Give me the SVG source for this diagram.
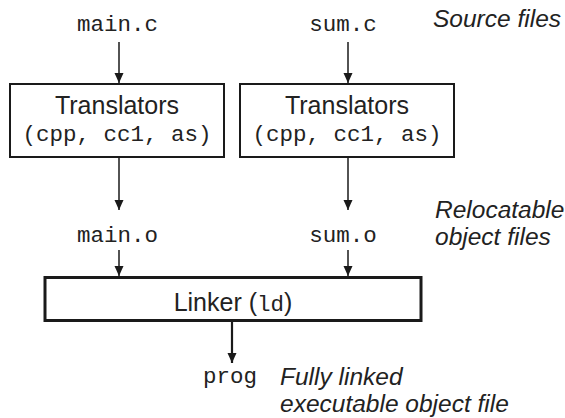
<svg xmlns="http://www.w3.org/2000/svg" width="565" height="418" viewBox="0 0 565 418">
<style>
.mono{font-family:"Liberation Mono","Courier New",monospace;font-size:22.5px;fill:#222;text-anchor:middle}
.sans{font-family:"Liberation Sans",Arial,sans-serif;font-size:25px;fill:#222;text-anchor:middle}
.note{font-family:"Liberation Sans",Arial,sans-serif;font-size:24.5px;font-style:italic;fill:#222}
.box{fill:#fff;stroke:#1a1a1a;stroke-width:2}
.lbox{fill:#fff;stroke:#1a1a1a;stroke-width:3}
.conn{stroke:#1a1a1a;stroke-width:1.5;fill:none}
</style>
<defs>
<marker id="ah" viewBox="0 0 10 10" refX="10" refY="5" markerWidth="10" markerHeight="10" markerUnits="userSpaceOnUse" orient="auto">
<path d="M0,0.5 L10,5 L0,9.5 z" fill="#1a1a1a"/>
</marker>
</defs>
<g id="connectors">
<line class="conn" x1="119" y1="42" x2="119" y2="83" marker-end="url(#ah)"/>
<line class="conn" x1="348" y1="42" x2="348" y2="83" marker-end="url(#ah)"/>
<line class="conn" x1="119" y1="158" x2="119" y2="210" marker-end="url(#ah)"/>
<line class="conn" x1="348" y1="158" x2="348" y2="210" marker-end="url(#ah)"/>
<line class="conn" x1="119" y1="250" x2="119" y2="276" marker-end="url(#ah)"/>
<line class="conn" x1="348" y1="250" x2="348" y2="276" marker-end="url(#ah)"/>
<line class="conn" style="stroke-width:2.2" x1="232" y1="321" x2="232" y2="363" marker-end="url(#ah)"/>
</g>
<g id="main_c"><text class="mono" x="117.5" y="31">main.c</text></g>
<g id="sum_c"><text class="mono" x="343" y="31">sum.c</text></g>
<g id="source_label"><text class="note" x="433" y="27">Source files</text></g>
<g id="translators1">
<rect class="box" x="10" y="84" width="214" height="73"/>
<text class="sans" x="117" y="114">Translators</text>
<text class="mono" x="117" y="141">(cpp, cc1, as)</text>
</g>
<g id="translators2">
<rect class="box" x="240" y="84" width="214" height="73"/>
<text class="sans" x="347" y="114">Translators</text>
<text class="mono" x="347" y="141">(cpp, cc1, as)</text>
</g>
<g id="main_o"><text class="mono" x="117.5" y="242">main.o</text></g>
<g id="sum_o"><text class="mono" x="343" y="242">sum.o</text></g>
<g id="reloc_label">
<text class="note" x="435" y="218">Relocatable</text>
<text class="note" x="435" y="245">object files</text>
</g>
<g id="linker">
<rect class="lbox" x="45" y="277.5" width="376" height="43"/>
<text x="233" y="311" class="sans"><tspan>Linker (</tspan><tspan style="font-family:'Liberation Mono','Courier New',monospace;font-size:22.5px">ld</tspan><tspan>)</tspan></text>
</g>
<g id="prog"><text class="mono" x="230" y="383">prog</text></g>
<g id="exec_label">
<text class="note" x="280" y="385">Fully linked</text>
<text class="note" x="280" y="412">executable object file</text>
</g>
</svg>
